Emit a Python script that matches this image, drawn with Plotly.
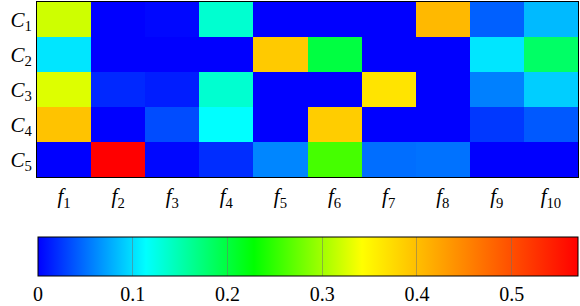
import plotly.graph_objects as go

features = ["f1", "f2", "f3", "f4", "f5", "f6", "f7", "f8", "f9", "f10"]
classes = ["C1", "C2", "C3", "C4", "C5"]
feature_labels = ["<i>f</i><sub>%d</sub>" % i for i in range(1, 11)]
class_labels = ["<i>C</i><sub>%d</sub>" % i for i in range(1, 6)]

row_c1 = [0.320, 0.000, 0.003, 0.135, 0.000, 0.000, 0.000, 0.405, 0.043, 0.083]
row_c2 = [0.103, 0.000, 0.000, 0.000, 0.390, 0.199, 0.000, 0.000, 0.103, 0.183]
row_c3 = [0.327, 0.018, 0.013, 0.135, 0.000, 0.000, 0.366, 0.000, 0.057, 0.092]
row_c4 = [0.396, 0.000, 0.034, 0.114, 0.000, 0.387, 0.000, 0.000, 0.025, 0.040]
row_c5 = [0.000, 0.570, 0.003, 0.020, 0.060, 0.259, 0.049, 0.051, 0.000, 0.000]

zmin, zmax = 0.0, 0.57
cbar_ticks = [0, 0.1, 0.2, 0.3, 0.4, 0.5]
cbar_ticktext = ["0", "0.1", "0.2", "0.3", "0.4", "0.5"]

colorscale = [
    [0.0, "rgb(0,0,255)"],
    [0.2, "rgb(0,255,255)"],
    [0.4, "rgb(0,255,0)"],
    [0.6, "rgb(255,255,0)"],
    [0.8, "rgb(255,128,0)"],
    [1.0, "rgb(255,0,0)"],
]

SERIF = "'Liberation Serif', 'DejaVu Serif', 'Times New Roman', serif"

W, H = 580, 306
L, R, T, B = 37, 2, 2, 129
plot_h = H - T - B

fig = go.Figure(go.Heatmap(
    z=[row_c1, row_c2, row_c3, row_c4, row_c5],
    x=features, y=classes,
    zmin=zmin, zmax=zmax,
    colorscale=colorscale,
    xgap=0, ygap=0,
    colorbar=dict(
        orientation="h",
        lenmode="pixels", len=540,
        thicknessmode="pixels", thickness=39,
        x=(38 - L) / (W - L - R), xanchor="left",
        y=(H - B - 237) / plot_h, yanchor="top",
        xpad=0, ypad=0,
        outlinewidth=1, outlinecolor="black",
        tickmode="array", tickvals=cbar_ticks, ticktext=cbar_ticktext,
        ticks="inside", ticklen=39, tickcolor="rgba(110,110,110,0.5)", tickwidth=1,
        tickfont=dict(family=SERIF, size=20, color="black"),
    ),
))

fig.update_xaxes(
    tickmode="array", tickvals=features, ticktext=feature_labels,
    ticks="", automargin=False,
    showline=True, linecolor="black", linewidth=1, mirror=True,
    tickfont=dict(family=SERIF, size=21, color="black"),
)
fig.update_yaxes(
    tickmode="array", tickvals=classes, ticktext=class_labels,
    autorange="reversed", automargin=False,
    ticks="",
    showline=True, linecolor="black", linewidth=1, mirror=True,
    tickfont=dict(family=SERIF, size=21, color="black"),
)

fig.update_layout(
    width=W, height=H,
    margin=dict(l=L, r=R, t=T, b=B, autoexpand=False),
    paper_bgcolor="white", plot_bgcolor="white",
)

fig.write_html(
    "out.html",
    config={"displayModeBar": False},
    post_script="document.body.style.margin='0';document.body.style.overflow='hidden';",
)
